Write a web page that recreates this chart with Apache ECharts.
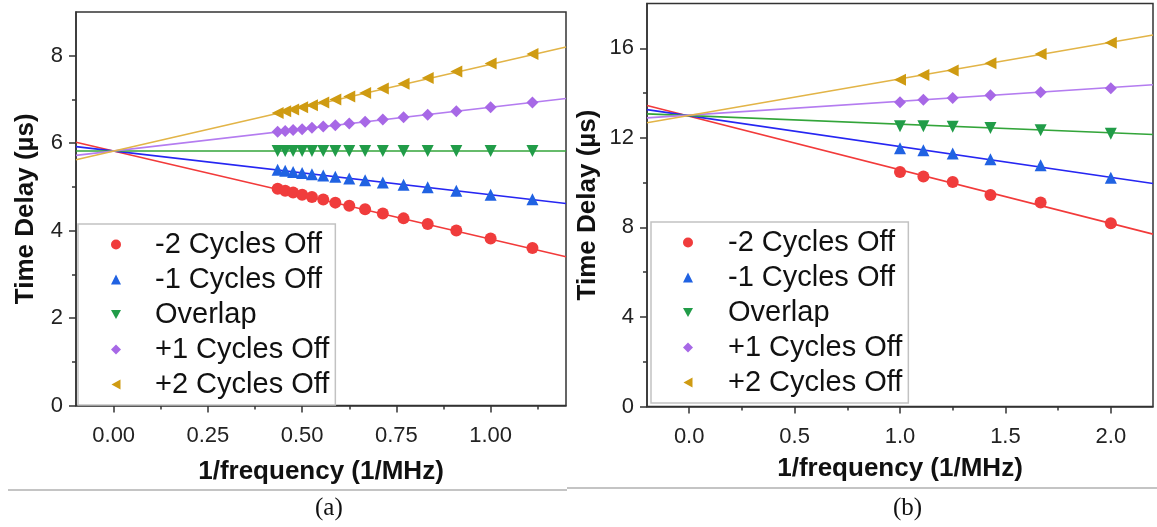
<!DOCTYPE html>
<html>
<head>
<meta charset="utf-8">
<script src="https://cdn.jsdelivr.net/npm/echarts@6/dist/echarts.min.js"></script>
<style>html,body{margin:0;padding:0;background:#fff}#c{width:1157px;height:527px}</style>
</head>
<body>
<div id="c"></div>
<script>
// ---------- Panel (a) ----------
const xA = [0.435, 0.455, 0.476, 0.5, 0.526, 0.556, 0.588, 0.625, 0.667, 0.714, 0.769, 0.833, 0.909, 1.0, 1.111];
const m2A = [4.96, 4.91, 4.87, 4.82, 4.77, 4.71, 4.64, 4.57, 4.49, 4.39, 4.28, 4.15, 4.00, 3.82, 3.60];
const m1A = [5.39, 5.37, 5.34, 5.32, 5.29, 5.26, 5.23, 5.19, 5.15, 5.10, 5.05, 4.99, 4.91, 4.82, 4.72];
const ovA = [5.82, 5.82, 5.82, 5.82, 5.82, 5.82, 5.82, 5.82, 5.82, 5.82, 5.82, 5.82, 5.82, 5.82, 5.82];
const p1A = [6.26, 6.28, 6.30, 6.32, 6.35, 6.38, 6.41, 6.45, 6.49, 6.54, 6.59, 6.65, 6.73, 6.82, 6.93];
const p2A = [6.69, 6.73, 6.77, 6.82, 6.87, 6.93, 7.00, 7.07, 7.15, 7.25, 7.36, 7.49, 7.64, 7.82, 8.04];
const fitXA = [-0.1, 1.2];
const fitM2A = [6.02, 3.40];
const fitM1A = [5.92, 4.62];
const fitOvA = [5.82, 5.82];
const fitP1A = [5.72, 7.02];
const fitP2A = [5.62, 8.20];
const xTicksA = [0, 0.25, 0.5, 0.75, 1.0];
const xMinorA = [0.125, 0.375, 0.625, 0.875, 1.125];
const yTicksA = [0, 2, 4, 6, 8];
const yMinorA = [1, 3, 5, 7];

// ---------- Panel (b) ----------
const xB = [1.0, 1.111, 1.25, 1.429, 1.667, 2.0];
const m2B = [10.47, 10.27, 10.03, 9.45, 9.11, 8.19];
const m1B = [11.53, 11.45, 11.30, 11.04, 10.77, 10.22];
const ovB = [12.52, 12.52, 12.49, 12.44, 12.34, 12.18];
const p1B = [13.59, 13.70, 13.78, 13.90, 14.04, 14.22];
const p2B = [14.59, 14.81, 15.01, 15.33, 15.75, 16.25];
const fitXB = [-0.2, 2.2];
const fitM2B = [13.44, 7.70];
const fitM1B = [13.26, 9.96];
const fitOvB = [13.07, 12.15];
const fitP1B = [12.89, 14.37];
const fitP2B = [12.67, 16.59];
const xTicksB = [0, 0.5, 1.0, 1.5, 2.0];
const xMinorB = [0.25, 0.75, 1.25, 1.75];
const yTicksB = [0, 4, 8, 12, 16];
const yMinorB = [2, 6, 10, 14];

const names = ['-2 Cycles Off', '-1 Cycles Off', 'Overlap', '+1 Cycles Off', '+2 Cycles Off'];
const markerColors = ['#f03c3c', '#2062e2', '#219c48', '#a768e6', '#cf9b12'];
const lineColors = ['#f23a3a', '#2626f2', '#33a53a', '#b47cf0', '#e2b447'];
const symbols = ['circle', 'triangle', 'path://M0,0L10,0L5,9Z', 'diamond', 'path://M9,0L9,10L0,5Z'];

const FONT = 'Liberation Sans';
const AX = '#333';

function zip(xs, ys) { return xs.map((x, i) => [x, ys[i]]); }

function mainX(gi, min, max, ticks, fmt, gap, name) {
  return {
    gridIndex: gi, type: 'value', min: min, max: max, position: 'bottom',
    name: name, nameLocation: 'middle', nameGap: gap,
    nameTextStyle: { fontFamily: FONT, fontWeight: 'bold', fontSize: 26, color: '#111' },
    axisLine: { show: true, onZero: false, lineStyle: { color: AX, width: 1.5 } },
    axisTick: { show: true, inside: false, length: 7, customValues: ticks, lineStyle: { color: AX, width: 1.5 } },
    axisLabel: { show: true, customValues: ticks, formatter: v => v.toFixed(fmt), fontFamily: FONT, fontSize: 22, color: '#222', margin: 19 },
    splitLine: { show: false }
  };
}
function minorX(gi, min, max, ticks) {
  return {
    gridIndex: gi, type: 'value', min: min, max: max, position: 'bottom',
    axisLine: { show: false, onZero: false },
    axisTick: { show: true, inside: false, length: 4, customValues: ticks, lineStyle: { color: AX, width: 1.5 } },
    axisLabel: { show: false }, splitLine: { show: false }
  };
}
function mainY(gi, min, max, ticks, gap) {
  return {
    gridIndex: gi, type: 'value', min: min, max: max, position: 'left',
    name: 'Time Delay (\u00b5s)', nameLocation: 'middle', nameGap: gap, nameRotate: 90,
    nameTextStyle: { fontFamily: FONT, fontWeight: 'bold', fontSize: 26, color: '#111' },
    axisLine: { show: true, onZero: false, lineStyle: { color: AX, width: 1.5 } },
    axisTick: { show: true, inside: false, length: 7, customValues: ticks, lineStyle: { color: AX, width: 1.5 } },
    axisLabel: { show: true, customValues: ticks, fontFamily: FONT, fontSize: 22, color: '#222', margin: 13 },
    splitLine: { show: false }
  };
}
function minorY(gi, min, max, ticks) {
  return {
    gridIndex: gi, type: 'value', min: min, max: max, position: 'left',
    axisLine: { show: false, onZero: false },
    axisTick: { show: true, inside: false, length: 4, customValues: ticks, lineStyle: { color: AX, width: 1.5 } },
    axisLabel: { show: false }, splitLine: { show: false }
  };
}

function panelSeries(axisIdx, xs, ys, fitX, fits, size) {
  const out = [];
  fits.forEach((f, i) => {
    out.push({
      type: 'line', xAxisIndex: axisIdx, yAxisIndex: axisIdx, data: zip(fitX, f),
      symbol: 'none', silent: true, z: 2,
      lineStyle: { color: lineColors[i], width: 1.6 }
    });
  });
  ys.forEach((y, i) => {
    out.push({
      type: 'scatter', name: names[i], xAxisIndex: axisIdx, yAxisIndex: axisIdx,
      data: zip(xs, y), symbol: symbols[i], symbolSize: size, z: 3,
      itemStyle: { color: markerColors[i], opacity: 1 }
    });
  });
  return out;
}

function legend(left, top, padL, textPad) {
  return {
    orient: 'vertical', left: left, top: top,
    data: names.map((n, i) => ({ name: n, icon: symbols[i], itemStyle: { color: markerColors[i] } })),
    itemWidth: 10, itemHeight: 10, itemGap: 6,
    padding: [6, 6, 6, padL],
    backgroundColor: '#fff', borderColor: '#c2c2c2', borderWidth: 1.5,
    selectedMode: false,
    textStyle: { fontFamily: FONT, fontSize: 29, lineHeight: 29, color: '#111', padding: [0, 0, 0, textPad] }
  };
}

const chart = echarts.init(document.getElementById('c'), null, { renderer: 'canvas' });
chart.setOption({
  animation: false,
  backgroundColor: '#fff',
  grid: [
    { left: 76, top: 12, width: 490, height: 393.5, show: true, borderColor: AX, borderWidth: 1.5, containLabel: false },
    { left: 647, top: 3.5, width: 506, height: 403, show: true, borderColor: AX, borderWidth: 1.5, containLabel: false }
  ],
  xAxis: [
    mainX(0, -0.1, 1.2, xTicksA, 2, 53, '1/frequency (1/MHz)'),
    mainX(1, -0.2, 2.2, xTicksB, 1, 49, '1/frequency (1/MHz)'),
    minorX(0, -0.1, 1.2, xMinorA),
    minorX(1, -0.2, 2.2, xMinorB)
  ],
  yAxis: [
    mainY(0, 0, 9, yTicksA, 37),
    mainY(1, 0, 18, yTicksB, 46),
    minorY(0, 0, 9, yMinorA),
    minorY(1, 0, 18, yMinorB)
  ],
  legend: [legend(78, 224, 33, 29), legend(651, 222, 32, 30)],
  series: [].concat(
    panelSeries(0, xA, [m2A, m1A, ovA, p1A, p2A], fitXA, [fitM2A, fitM1A, fitOvA, fitP1A, fitP2A], 12),
    panelSeries(1, xB, [m2B, m1B, ovB, p1B, p2B], fitXB, [fitM2B, fitM1B, fitOvB, fitP1B, fitP2B], 12)
  ),
  title: [
    { text: '(a)', left: 315, top: 496, textStyle: { fontFamily: 'Liberation Serif', fontWeight: 'normal', fontSize: 25, color: '#111' }, padding: 0 },
    { text: '(b)', left: 893, top: 496, textStyle: { fontFamily: 'Liberation Serif', fontWeight: 'normal', fontSize: 25, color: '#111' }, padding: 0 }
  ],
  graphic: [
    { type: 'line', shape: { x1: 8, y1: 490, x2: 567, y2: 490 }, style: { stroke: '#8a8a8a', lineWidth: 1.2 } },
    { type: 'line', shape: { x1: 567, y1: 488, x2: 1157, y2: 488 }, style: { stroke: '#8a8a8a', lineWidth: 1.2 } }
  ]
});
</script>
</body>
</html>
